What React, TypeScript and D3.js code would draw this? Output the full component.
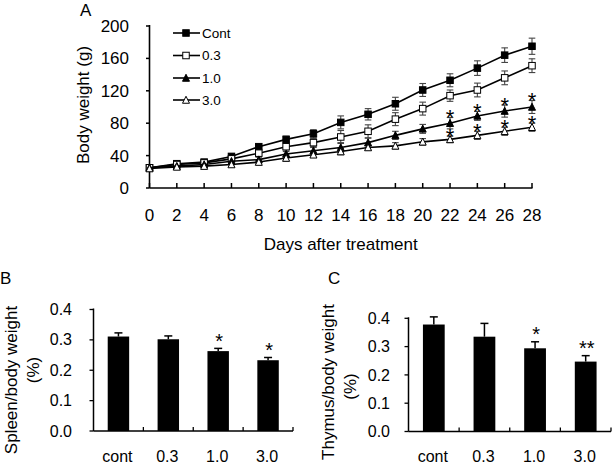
import React from "react";
import * as d3 from "d3";

const FONT = "'Liberation Sans', Arial, Helvetica, sans-serif";

// Panel A data
const days = [0, 2, 4, 6, 8, 10, 12, 14, 16, 18, 20, 22, 24, 26, 28];
const seriesNames = ["Cont", "0.3", "1.0", "3.0"];
const contW = [25, 30, 32, 39, 51, 60, 67, 81, 91, 104, 121, 133, 148, 164, 175];
const d03W = [25, 29, 31, 36, 43, 51, 56, 63, 70, 85, 98, 114, 121, 136, 151];
const d10W = [25, 27, 29, 33, 35, 42, 46, 50, 56, 65, 73, 80, 89, 95, 100];
const d30W = [24, 26, 27, 29, 32, 37, 41, 45, 50, 52, 57, 60, 65, 70, 75];
const contE = [2, 2, 2, 3, 3, 4, 5, 8, 7, 8, 8, 8, 9, 9, 10];
const d03E = [2, 2, 2, 3, 3, 4, 5, 8, 8, 8, 8, 7, 8.5, 8.5, 8.5];
const d10E = [2, 2, 2, 2, 3, 3, 4, 6, 5.5, 5, 5.5, 7, 5.5, 7.5, 8];
const d30E = [2, 2, 2, 2, 2, 4, 3, 4, 3, 4, 4, 4, 5, 5, 5];
const sigDays = [22, 24, 26, 28];
const sigSeries = [2, 3];
const yTicksA = [0, 40, 80, 120, 160, 200];

// Panels B & C data
const groups = ["cont", "0.3", "1.0", "3.0"];
const spleen = [0.311, 0.302, 0.263, 0.233];
const spleenErr = [0.012, 0.011, 0.009, 0.009];
const spleenSig = ["", "", "*", "*"];
const thymus = [0.378, 0.335, 0.294, 0.247];
const thymusErr = [0.027, 0.047, 0.023, 0.021];
const thymusSig = ["", "", "*", "**"];
const yTicksBC = [0, 0.1, 0.2, 0.3, 0.4];

const seriesVals = [contW, d03W, d10W, d30W];
const seriesErrs = [contE, d03E, d10E, d30E];
const markerKind = ["sq", "sq", "tri", "tri"];
const markerFill = ["#000", "#fff", "#000", "#fff"];

function Marker({ x, y, kind, fill }: { x: number; y: number; kind: string; fill: string }) {
  if (kind === "sq") {
    const s = 6.5;
    return <rect x={x - s / 2} y={y - s / 2} width={s} height={s} fill={fill} stroke="#000" strokeWidth={1} />;
  }
  const h = 6.5;
  const w = 7;
  const p = `M${x},${y - h / 2 - 0.5}L${x + w / 2},${y + h / 2}L${x - w / 2},${y + h / 2}Z`;
  return <path d={p} fill={fill} stroke="#000" strokeWidth={1} />;
}

function Star({ cx, cy, text, fs }: { cx: number; cy: number; text: string; fs: number }) {
  return (
    <text x={cx} y={cy + 0.58 * fs} fontSize={fs} textAnchor="middle" fontFamily={FONT} fill="#000">
      {text}
    </text>
  );
}

function BarPanel(props: {
  x0: number; x1: number; yBottom: number; yTop: number;
  values: number[]; errs: number[]; sig: string[];
  letter: string; letterX: number; letterY: number;
  label1: string; l1x: number; l1y: number; l2x: number; l2y: number;
  tickRight: number;
}) {
  const { x0, x1, yBottom, yTop, values, errs, sig } = props;
  const y = d3.scaleLinear().domain([0, 0.4]).range([yBottom, yTop]);
  const x = d3.scaleBand<string>().domain(groups).range([x0, x1]).paddingInner(0.57).paddingOuter(0.285);
  const step = x.step();
  const bw = x.bandwidth();
  return (
    <g>
      <text x={props.letterX} y={props.letterY} fontSize={17} fontFamily={FONT}>{props.letter}</text>
      <text transform={`translate(${props.l1x},${props.l1y}) rotate(-90)`} textAnchor="middle" dy="0.35em" fontSize={17} fontFamily={FONT}>{props.label1}</text>
      <text transform={`translate(${props.l2x},${props.l2y}) rotate(-90)`} textAnchor="middle" dy="0.35em" fontSize={17} fontFamily={FONT}>(%)</text>
      {yTicksBC.map((t) => (
        <g key={t}>
          <line x1={x0 - 4} x2={x0} y1={y(t)} y2={y(t)} stroke="#000" strokeWidth={1.3} />
          <text x={props.tickRight} y={y(t)} dy="0.35em" textAnchor="end" fontSize={16} fontFamily={FONT}>{t.toFixed(1)}</text>
        </g>
      ))}
      {groups.map((g, i) => {
        const bx = x(g)!;
        const cx = bx + bw / 2;
        const top = y(values[i]);
        const et = y(values[i] + errs[i]);
        return (
          <g key={g}>
            <rect x={bx} y={top} width={bw} height={yBottom - top} fill="#000" />
            <line x1={cx} x2={cx} y1={top} y2={et} stroke="#000" strokeWidth={1.5} />
            <line x1={cx - 4} x2={cx + 4} y1={et} y2={et} stroke="#000" strokeWidth={1.5} />
            {sig[i] && <Star cx={cx + 1} cy={et - 12} text={sig[i]} fs={20} />}
            <text x={cx - 1} y={yBottom + 25} dy="0.35em" textAnchor="middle" fontSize={16} fontFamily={FONT}>{g}</text>
          </g>
        );
      })}
      {groups.map((g, i) => (
        <line key={"t" + g} x1={x0 + step * (i + 1)} x2={x0 + step * (i + 1)} y1={yBottom} y2={yBottom - 4} stroke="#000" strokeWidth={1.3} />
      ))}
      <line x1={x0} x2={x0} y1={yTop - 1} y2={yBottom} stroke="#000" strokeWidth={1.5} />
      <line x1={x0} x2={x1} y1={yBottom} y2={yBottom} stroke="#000" strokeWidth={1.5} />
    </g>
  );
}

export default function App() {
  const xA = d3.scaleLinear().domain([0, 28]).range([149.5, 532]);
  const yA = d3.scaleLinear().domain([0, 200]).range([188, 26]);
  const line = d3.line<number>().x((_, i) => xA(days[i])).y((d) => yA(d));
  const legendY = [33, 55.5, 78, 100];

  return (
    <svg width={613} height={465} style={{ position: "absolute", left: 0, top: 0, background: "#fff" }}>
      <rect width={613} height={465} fill="#fff" />
      {/* Panel A */}
      <text x={80} y={16} fontSize={17} fontFamily={FONT}>A</text>
      <text transform="translate(83,105) rotate(-90)" textAnchor="middle" dy="0.35em" fontSize={17} fontFamily={FONT}>Body weight (g)</text>
      {yTicksA.map((t) => (
        <g key={t}>
          <line x1={146} x2={149.5} y1={yA(t)} y2={yA(t)} stroke="#000" strokeWidth={1.5} />
          <text x={129} y={yA(t)} dy="0.35em" textAnchor="end" fontSize={17} fontFamily={FONT}>{t}</text>
        </g>
      ))}
      {days.map((d) => (
        <g key={d}>
          <line x1={xA(d)} x2={xA(d)} y1={188} y2={183} stroke="#000" strokeWidth={1.5} />
          <text x={xA(d)} y={215} dy="0.35em" textAnchor="middle" fontSize={17} fontFamily={FONT}>{d}</text>
        </g>
      ))}
      <line x1={149.5} x2={149.5} y1={25} y2={188} stroke="#000" strokeWidth={1.6} />
      <line x1={149.5} x2={532.5} y1={188} y2={188} stroke="#000" strokeWidth={1.6} />
      <text x={340.7} y={244} dy="0.35em" textAnchor="middle" fontSize={17} fontFamily={FONT}>Days after treatment</text>

      {seriesVals.map((vals, si) => (
        <g key={"err" + si}>
          {vals.map((v, i) => {
            const cx = xA(days[i]);
            const t = yA(v + seriesErrs[si][i]);
            const b = yA(v - seriesErrs[si][i]);
            return (
              <g key={i} stroke="#444" strokeWidth={1.1}>
                <line x1={cx} x2={cx} y1={t} y2={b} />
                <line x1={cx - 3.3} x2={cx + 3.3} y1={t} y2={t} />
                <line x1={cx - 3.3} x2={cx + 3.3} y1={b} y2={b} />
              </g>
            );
          })}
        </g>
      ))}
      {seriesVals.map((vals, si) => (
        <g key={"s" + si}>
          <path d={line(vals) || ""} fill="none" stroke="#000" strokeWidth={1.6} />
          {vals.map((v, i) => (
            <Marker key={i} x={xA(days[i])} y={yA(v)} kind={markerKind[si]} fill={markerFill[si]} />
          ))}
        </g>
      ))}
      {sigSeries.map((si) =>
        sigDays.map((d) => {
          const i = days.indexOf(d);
          const top = yA(seriesVals[si][i] + seriesErrs[si][i]);
          return <Star key={si + "-" + d} cx={xA(d)} cy={top - 5} text="*" fs={22} />;
        })
      )}

      {/* Legend */}
      {seriesNames.map((n, i) => (
        <g key={n}>
          <line x1={173} x2={200} y1={legendY[i]} y2={legendY[i]} stroke="#000" strokeWidth={1.6} />
          <Marker x={186} y={legendY[i]} kind={markerKind[i]} fill={markerFill[i]} />
          <text x={202} y={legendY[i]} dy="0.35em" fontSize={13.5} fontFamily={FONT}>{n}</text>
        </g>
      ))}

      {/* Panel B */}
      <BarPanel
        x0={93.5} x1={293} yBottom={431} yTop={309.5}
        values={spleen} errs={spleenErr} sig={spleenSig}
        letter="B" letterX={0} letterY={284}
        label1="Spleen/body weight" l1x={11} l1y={380} l2x={33.5} l2y={370}
        tickRight={72}
      />
      {/* Panel C */}
      <BarPanel
        x0={408.5} x1={611} yBottom={431.5} yTop={318.3}
        values={thymus} errs={thymusErr} sig={thymusSig}
        letter="C" letterX={328} letterY={284}
        label1="Thymus/body weight" l1x={328.5} l1y={382} l2x={350} l2y={386.5}
        tickRight={390}
      />
    </svg>
  );
}
